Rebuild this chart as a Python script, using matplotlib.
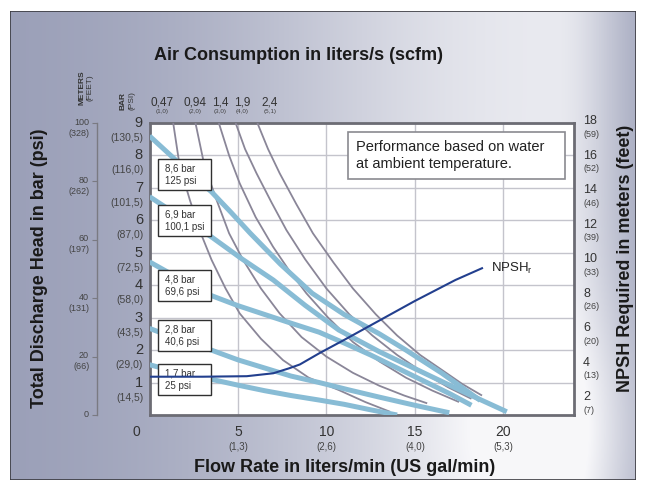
import numpy as np
import matplotlib.pyplot as plt
from matplotlib.patches import Rectangle

plt.rcParams['font.family'] = ['Liberation Sans', 'DejaVu Sans']

#####################################################################
# DATA
#####################################################################

flow_ticks = [5, 10, 15, 20]
flow_gpm = ['(1,3)', '(2,6)', '(4,0)', '(5,3)']

bar_ticks = [1, 2, 3, 4, 5, 6, 7, 8, 9]
bar_psi = ['(14,5)', '(29,0)', '(43,5)', '(58,0)', '(72,5)',
           '(87,0)', '(101,5)', '(116,0)', '(130,5)']

meter_ticks = [0, 20, 40, 60, 80, 100]
meter_feet = ['', '(66)', '(131)', '(197)', '(262)', '(328)']

npsh_ticks = [2, 4, 6, 8, 10, 12, 14, 16, 18]
npsh_feet = ['(7)', '(13)', '(20)', '(26)', '(33)', '(39)', '(46)', '(52)', '(59)']

air_lps = ['0,47', '0,94', '1,4', '1,9', '2,4']
air_scfm = ['(1,0)', '(2,0)', '(3,0)', '(4,0)', '(5,1)']
air_label_x = [0.70, 2.57, 3.98, 5.22, 6.80]

# pressure curves: flow (L/min) vs head (bar)
p_names = ['8,6 bar\n125 psi', '6,9 bar\n100,1 psi', '4,8 bar\n69,6 psi',
           '2,8 bar\n40,6 psi', '1,7 bar\n25 psi']
p_label_y = [7.40, 5.99, 3.98, 2.44, 1.09]
p86_x = [0, 0.8, 1.5, 2.5, 3.5, 4.6, 5.7, 7.4, 9.2, 11.0, 13.0, 14.5, 16.5, 18.7]
p86_y = [8.6, 8.2, 7.85, 7.35, 6.88, 6.25, 5.6, 4.65, 3.75, 3.1, 2.5, 2.0, 1.3, 0.45]
p69_x = [0, 1.7, 3.5, 5.2, 7.0, 8.8, 10.7, 13.0, 15.5, 18.0, 20.2]
p69_y = [6.73, 6.12, 5.49, 4.82, 4.16, 3.38, 2.62, 1.95, 1.3, 0.65, 0.1]
p48_x = [0, 1.7, 3.5, 5.0, 6.5, 8.0, 9.6, 11.0, 12.5, 14.0, 15.5, 17.0, 18.2]
p48_y = [4.72, 4.2, 3.68, 3.37, 3.1, 2.83, 2.55, 2.22, 1.85, 1.45, 1.05, 0.65, 0.3]
p28_x = [0, 1.7, 3.5, 5.0, 6.5, 8.0, 9.6, 11.3, 13.0, 15.0, 16.95]
p28_y = [2.67, 2.32, 2.0, 1.7, 1.45, 1.2, 1.0, 0.77, 0.55, 0.3, 0.07]
p17_x = [0, 1.7, 3.5, 5.0, 6.5, 8.0, 9.6, 11.0, 12.5, 14.0]
p17_y = [1.55, 1.3, 1.1, 0.92, 0.75, 0.6, 0.46, 0.33, 0.16, 0.0]

# air consumption curves
a047_x = [1.34, 1.7, 2.28, 2.9, 3.51, 4.3, 5.1, 6.3, 7.55, 9.0, 10.7, 12.2, 13.6]
a047_y = [9.0, 7.7, 6.63, 5.6, 4.78, 3.9, 3.13, 2.35, 1.69, 1.15, 0.77, 0.4, 0.1]
a094_x = [2.6, 3.1, 3.79, 4.5, 5.29, 6.3, 7.36, 8.6, 10.0, 11.5, 13.0, 14.4, 15.7]
a094_y = [9.0, 7.7, 6.63, 5.6, 4.78, 3.9, 3.13, 2.4, 1.8, 1.3, 0.9, 0.6, 0.36]
a14_x = [3.92, 4.5, 5.1, 6.0, 6.98, 7.9, 8.87, 10.1, 11.5, 13.0, 14.5, 16.0, 17.5]
a14_y = [9.0, 8.0, 7.14, 6.1, 5.19, 4.45, 3.75, 3.0, 2.25, 1.65, 1.15, 0.75, 0.4]
a19_x = [4.87, 5.4, 6.05, 6.9, 7.74, 8.8, 10.0, 11.3, 12.6, 14.0, 15.5, 16.9, 18.2]
a19_y = [9.0, 8.2, 7.45, 6.55, 5.7, 4.8, 3.9, 3.1, 2.45, 1.85, 1.3, 0.85, 0.5]
a24_x = [6.1, 6.7, 7.36, 8.3, 9.24, 10.4, 11.5, 12.8, 14.0, 15.3, 16.5, 17.7, 18.8]
a24_y = [9.0, 8.2, 7.45, 6.5, 5.6, 4.7, 3.9, 3.1, 2.45, 1.85, 1.4, 0.95, 0.6]

# NPSH required (meters)
npsh_x = [0, 3.0, 5.5, 7.0, 7.9, 8.5, 9.6, 11.0, 13.0, 15.0, 17.3, 18.8]
npsh_m = [3.32, 3.32, 3.35, 3.52, 3.81, 4.03, 4.68, 5.45, 6.58, 7.71, 8.93, 9.61]

#####################################################################
# FIGURE + BACKGROUND
#####################################################################

W, H = 646, 488
fig = plt.figure(figsize=(W / 100, H / 100), dpi=100)
fig.patch.set_facecolor('white')

bg = fig.add_axes([0, 0, 1, 1], zorder=-10)
gx, gy = np.meshgrid(np.linspace(0, 1, 400), np.linspace(1, 0, 300))
sig = np.where(gx < 0.86, 0.50, 0.11)
w = np.exp(-((gx - 0.86) / sig) ** 2)
glow = np.exp(-(((gx - 0.86) / 0.18) ** 2 + ((gy - 0.12) / 0.25) ** 2))
w = np.clip(0.85 * w + 0.35 * glow, 0, 1)
dark = np.array([0.59, 0.61, 0.71])
light = np.array([0.97, 0.97, 0.98])
img = dark[None, None, :] * (1 - w[..., None]) + light[None, None, :] * w[..., None]
bg.imshow(img, extent=[0, 1, 0, 1], aspect='auto')
bg.set_xlim(0, 1)
bg.set_ylim(0, 1)
bg.axis('off')
bg.add_patch(Rectangle((10 / W, 1 - 480 / H), 626 / W, 469 / H, fill=False,
                       ec='#3a3a40', lw=1.2))
# white margin outside the frame
for r in [(0, 0, 10 / W, 1), (636 / W, 0, 1, 1), (0, 0, 1, 1 - 480 / H), (0, 1 - 11 / H, 1, 1)]:
    bg.add_patch(Rectangle((r[0], r[1]), r[2], r[3], fc='white', ec='none', zorder=5))

#####################################################################
# MAIN AXES
#####################################################################

L, R, T, B = 149.5, 574, 123, 415
ax = fig.add_axes([L / W, 1 - B / H, (R - L) / W, (B - T) / H])
ax.set_facecolor('white')
ax.set_xlim(0, 24)
ax.set_ylim(0, 9)
ax.set_xticks(flow_ticks)
ax.set_yticks(bar_ticks)
ax.tick_params(length=0, labelleft=False, labelbottom=False)
ax.grid(True, color='#c4c4cc', lw=1.0)
for s in ax.spines.values():
    s.set_color('#6c6c74')
    s.set_linewidth(2.0)

grey = '#8a8698'
for xs, ys in [(a047_x, a047_y), (a094_x, a094_y), (a14_x, a14_y),
               (a19_x, a19_y), (a24_x, a24_y)]:
    ax.plot(xs, ys, color=grey, lw=1.3, zorder=3, solid_capstyle='butt')

blue = '#88bcd5'
for xs, ys in [(p86_x, p86_y), (p69_x, p69_y), (p48_x, p48_y),
               (p28_x, p28_y), (p17_x, p17_y)]:
    ax.plot(xs, ys, color=blue, lw=3.6, zorder=4, solid_capstyle='butt')

# pressure label boxes
for name, yc in zip(p_names, p_label_y):
    ax.add_patch(Rectangle((0.48, yc - 0.475), 2.99, 0.95, fc='white',
                           ec='#303030', lw=1.0, zorder=6))
    ax.text(0.87, yc, name, fontsize=7, color='#333333', va='center',
            ha='left', linespacing=1.35, zorder=7)

# performance note
ax.add_patch(Rectangle((11.2, 7.27), 12.29, 1.46, fc='white', ec='#8a8a90',
                       lw=1.2, zorder=6))
ax.text(11.69, 8.0, 'Performance based on water\nat ambient temperature.',
        fontsize=10.5, color='#222222', va='center', ha='left',
        linespacing=1.25, zorder=7)

# flow labels
for v, s in zip(flow_ticks, flow_gpm):
    ax.annotate(str(v), xy=(v, 0), xycoords=('data', 'axes fraction'),
                xytext=(0, -12), textcoords='offset points', ha='center',
                va='center', fontsize=10, color='#333333', annotation_clip=False)
    ax.annotate(s, xy=(v, 0), xycoords=('data', 'axes fraction'),
                xytext=(0, -22.8), textcoords='offset points', ha='center',
                va='center', fontsize=7, color='#444444', annotation_clip=False)
ax.annotate('0', xy=(0, 0), xycoords=('data', 'axes fraction'),
            xytext=(-9.2, -12), textcoords='offset points', ha='center',
            va='center', fontsize=10, color='#333333', annotation_clip=False)

# bar labels
for v, s in zip(bar_ticks, bar_psi):
    ax.annotate(str(v), xy=(0, v), xycoords=('axes fraction', 'data'),
                xytext=(-4.7, 0), textcoords='offset points', ha='right',
                va='center', fontsize=10.5, color='#333333', annotation_clip=False)
    ax.annotate(s, xy=(0, v), xycoords=('axes fraction', 'data'),
                xytext=(-4.5, -10.8), textcoords='offset points', ha='right',
                va='center', fontsize=7.5, color='#444444', annotation_clip=False)

# air consumption labels on top
for xv, s1, s2 in zip(air_label_x, air_lps, air_scfm):
    ax.annotate(s1, xy=(xv, 1), xycoords=('data', 'axes fraction'),
                xytext=(0, 14.9), textcoords='offset points', ha='center',
                va='center', fontsize=8.5, color='#333333', annotation_clip=False)
    ax.annotate(s2, xy=(xv, 1), xycoords=('data', 'axes fraction'),
                xytext=(0, 8.1), textcoords='offset points', ha='center',
                va='center', fontsize=4.5, color='#444444', annotation_clip=False)

#####################################################################
# METERS AXIS (outer left)
#####################################################################

axm = ax.twinx()
axm.set_ylim(0, 100)
axm.yaxis.set_ticks_position('left')
axm.spines['left'].set_position(('outward', 37.8))
for k in ['right', 'top', 'bottom']:
    axm.spines[k].set_visible(False)
axm.spines['left'].set_color('#7a7a82')
axm.spines['left'].set_linewidth(1.0)
axm.set_yticks(meter_ticks)
axm.tick_params(axis='y', length=3.6, width=0.8, color='#7a7a82', labelleft=False,
                labelright=False)
for v, s in zip(meter_ticks, meter_feet):
    axm.annotate(str(v), xy=(0, v), xycoords=('axes fraction', 'data'),
                 xytext=(-43.6, 0.6), textcoords='offset points', ha='right',
                 va='center', fontsize=6.5, color='#444444', annotation_clip=False)
    if s:
        axm.annotate(s, xy=(0, v), xycoords=('axes fraction', 'data'),
                     xytext=(-43.0, -7.2), textcoords='offset points', ha='right',
                     va='center', fontsize=6.5, color='#444444', annotation_clip=False)

#####################################################################
# NPSH AXIS (right)
#####################################################################

axn = ax.twinx()
axn.set_ylim(1.10, 18.03)
axn.set_yticks([])
for k in axn.spines:
    axn.spines[k].set_visible(False)
axn.plot(npsh_x, npsh_m, color='#223f8e', lw=1.5, zorder=8)
axn.text(19.3, 9.61, r'NPSH$_\mathregular{r}$', fontsize=9.5, color='#222222',
         va='center', ha='left')
for v, s in zip(npsh_ticks, npsh_feet):
    axn.annotate(str(v), xy=(1, v), xycoords=('axes fraction', 'data'),
                 xytext=(6.5, 1.5), textcoords='offset points', ha='left',
                 va='center', fontsize=9, color='#333333', annotation_clip=False)
    axn.annotate(s, xy=(1, v), xycoords=('axes fraction', 'data'),
                 xytext=(6.5, -7.6), textcoords='offset points', ha='left',
                 va='center', fontsize=6.5, color='#444444', annotation_clip=False)

#####################################################################
# TITLES
#####################################################################

fig.text(298 / W, 1 - 55 / H, 'Air Consumption in liters/s (scfm)', fontsize=13,
         fontweight='bold', color='#1a1a1a', ha='center', va='center')
fig.text(345 / W, 1 - 468 / H, 'Flow Rate in liters/min (US gal/min)', fontsize=13,
         fontweight='bold', color='#1a1a1a', ha='center', va='center')
fig.text(40 / W, 1 - 268 / H, 'Total Discharge Head in bar (psi)', fontsize=13,
         fontweight='bold', color='#1a1a1a', ha='center', va='center', rotation=90)
fig.text(625 / W, 1 - 258 / H, 'NPSH Required in meters (feet)', fontsize=13,
         fontweight='bold', color='#1a1a1a', ha='center', va='center', rotation=90)

fig.text(81.7 / W, 1 - 88 / H, 'METERS', fontsize=6, fontweight='bold',
         color='#333333', ha='center', va='center', rotation=90)
fig.text(90 / W, 1 - 88 / H, '(FEET)', fontsize=6, color='#333333',
         ha='center', va='center', rotation=90)
fig.text(123.3 / W, 1 - 101 / H, 'BAR', fontsize=6, fontweight='bold',
         color='#333333', ha='center', va='center', rotation=90)
fig.text(131.7 / W, 1 - 101 / H, '(PSI)', fontsize=6, color='#333333',
         ha='center', va='center', rotation=90)

fig.savefig('out.png', dpi=100)
